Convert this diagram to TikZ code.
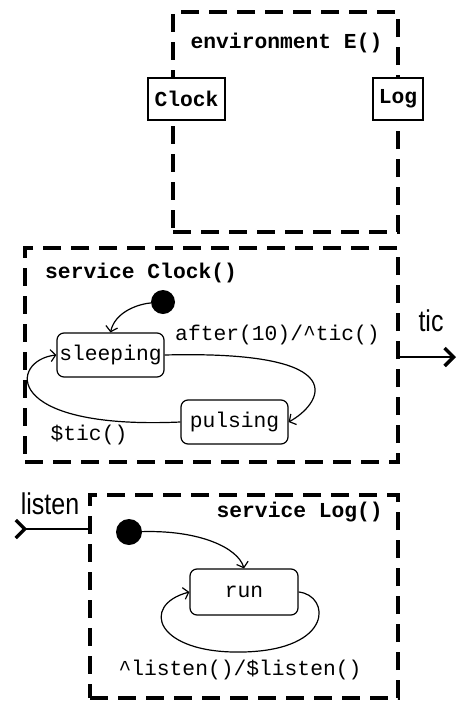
\documentclass[tikz,border=0pt]{standalone}
\usepackage{fontspec}
\usepackage{graphicx}
\setmonofont{Liberation Mono}
\setsansfont{Liberation Sans}
\usetikzlibrary{arrows.meta}
\tikzset{
 mono/.style={font=\fontsize{21.3}{24}\selectfont\ttfamily},
 monob/.style={font=\fontsize{21.3}{24}\selectfont\ttfamily\bfseries},
 sanslbl/.style={font=\fontsize{25}{28}\selectfont\sffamily, inner sep=0pt},
 dashbox/.style={draw, line width=4pt, dash pattern=on 18pt off 10pt, rectangle, inner sep=0pt},
 portbox/.style={draw, line width=2pt, fill=white, rectangle, inner sep=0pt, monob},
 statebox/.style={draw, line width=1.2pt, rounded corners=7pt, rectangle, inner sep=1pt, mono, minimum height=44pt, fill=white},
 initdot/.style={circle, fill=black, inner sep=0pt},
 trans/.style={line width=1.2pt, -{Straight Barb[length=5pt,width=12pt]}},
 eventline/.style={line width=1.5pt, -{Straight Barb[length=9pt,width=18pt,line width=3.5pt]}},
 eventlinein/.style={line width=1.5pt, -{Straight Barb[reversed,length=9pt,width=18pt,line width=3.5pt]}},
 lbl/.style={mono, inner sep=0pt},
 title/.style={monob, inner sep=0pt},
}
\begin{document}
\begin{tikzpicture}[x=1pt,y=1pt]
\useasboundingbox (0,0) rectangle (461,-702);
% environment
\node[dashbox, minimum width=225pt, minimum height=220pt] (env) at (285.5,-122) {};
\node[title] (envt) at (286.5,-43) {environment E()};
\node[portbox, minimum width=77pt, minimum height=42pt] (clockp) at (186.5,-99) {Clock};
\node[portbox, minimum width=50pt, minimum height=42pt] (logp) at (398,-99) {Log};
% service Clock
\node[dashbox, minimum width=373pt, minimum height=214pt] (svc1) at (211.5,-355) {};
\node[title, anchor=west] (svc1t) at (45,-273) {service Clock()};
\node[initdot, minimum size=24pt] (c1) at (163,-302) {};
\node[statebox, minimum width=107pt] (sleep) at (110.5,-355) {sleeping};
\node[statebox, minimum width=107pt] (pulse) at (234.5,-422) {pulsing};
\node[lbl] (afterl) at (277.5,-335) {after(10)/\string^tic()};
\node[lbl] (ticl) at (89,-435) {\$tic()};
\draw[trans] (c1) .. controls (138,-304) and (115,-312) .. (sleep.north);
\draw[trans] (sleep.east) .. controls (360,-350) and (320,-405) .. (pulse.east);
\draw[trans] (pulse.west) .. controls (0,-430) and (10,-360) .. (sleep.west);
\coordinate (ticend) at (456,-357);
\draw[eventline] (ticend -| svc1.east) -- (ticend);
\node[sanslbl] (ticlbl) at (431,-321) {\scalebox{1}[1.2]{tic}};
% service Log
\node[dashbox, minimum width=308pt, minimum height=203pt] (svc2) at (244,-596.5) {};
\node[title, anchor=east] (svc2t) at (383,-512) {service Log()};
\node[initdot, minimum size=26pt] (c2) at (129,-532) {};
\node[statebox, minimum width=108pt, minimum height=46pt] (run) at (244,-592) {run};
\draw[trans] (c2) .. controls (200,-530) and (238,-548) .. (run.north);
\draw[trans] (run.east) .. controls (330,-595) and (335,-650) .. (243,-652)
   .. controls (155,-654) and (140,-605) .. (run.west);
\node[lbl] (listenl) at (240,-670) {\string^listen()/\$listen()};
\coordinate (listenend) at (14,-529);
\draw[eventlinein] (listenend -| svc2.west) -- (listenend);
\node[sanslbl] (listenlbl) at (50,-504) {\scalebox{1}[1.2]{listen}};
\end{tikzpicture}
\end{document}
